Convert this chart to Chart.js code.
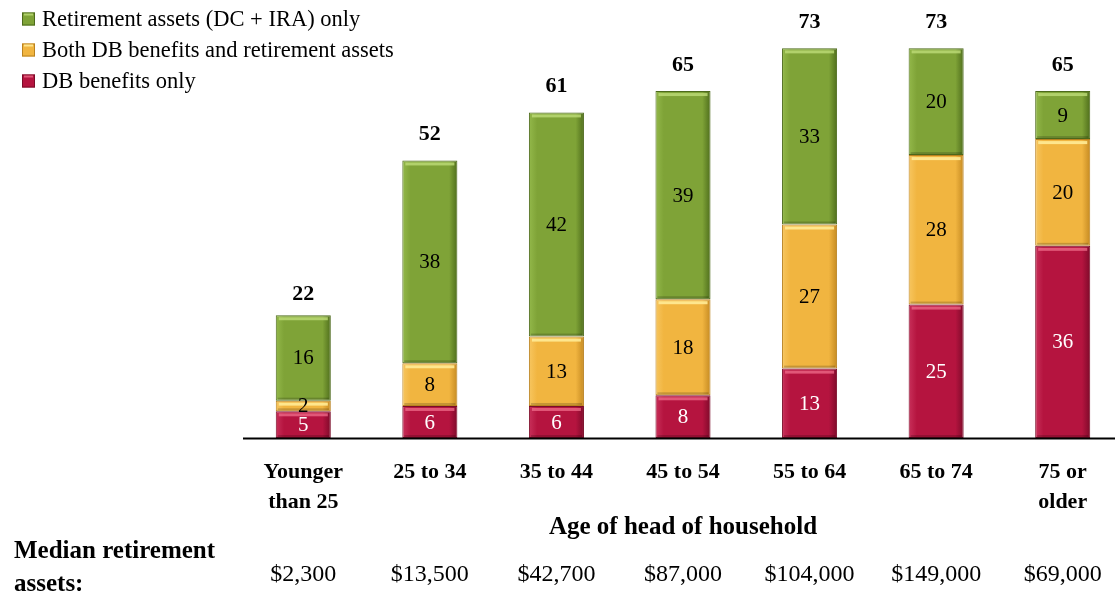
<!DOCTYPE html>
<html>
<head>
<meta charset="utf-8">
<script src="https://cdn.jsdelivr.net/npm/chart.js@4.4.0/dist/chart.umd.min.js"></script>
<style>
  html, body { margin: 0; padding: 0; background: #fff; overflow: hidden; }
  #wrap { position: relative; width: 1126px; height: 593px; }
</style>
</head>
<body>
<div id="wrap"><canvas id="c"></canvas></div>
<script>
const categories = [["Younger", "than 25"], "25 to 34", "35 to 44", "45 to 54", "55 to 64", "65 to 74", ["75 or", "older"]];
const dbOnly = [5, 6, 6, 8, 13, 25, 36];
const bothDbAndAssets = [2, 8, 13, 18, 27, 28, 20];
const assetsOnly = [16, 38, 42, 39, 33, 20, 9];
const totals = [22, 52, 61, 65, 73, 73, 65];
const medianAssets = ["$2,300", "$13,500", "$42,700", "$87,000", "$104,000", "$149,000", "$69,000"];
const seriesLabels = ["DB benefits only", "Both DB benefits and retirement assets", "Retirement assets (DC + IRA) only"];

const SERIF = "'Liberation Serif', 'DejaVu Serif', serif";

function grad(light, mid, dark) {
  return function(c) {
    const chart = c.chart;
    const xs = chart.scales && chart.scales.x;
    if (!chart.chartArea || !xs || c.dataIndex === undefined) return mid;
    const cx = xs.getPixelForValue(c.dataIndex);
    if (!isFinite(cx)) return mid;
    const w = 55;
    const g = chart.ctx.createLinearGradient(cx - w / 2, 0, cx + w / 2, 0);
    g.addColorStop(0, light);
    g.addColorStop(0.15, mid);
    g.addColorStop(0.85, mid);
    g.addColorStop(1, dark);
    return g;
  };
}

const barLabelPlugin = {
  id: 'barLabels',
  afterDatasetsDraw(chart) {
    const ctx = chart.ctx;
    ctx.save();
    chart.data.datasets.forEach((ds, di) => {
      const meta = chart.getDatasetMeta(di);
      meta.data.forEach((el) => {
        const top = Math.min(el.y, el.base), bot = Math.max(el.y, el.base);
        const w = el.width;
        ctx.fillStyle = ds.hiColor;
        ctx.fillRect(el.x - w / 2 + 3, top + 2, w - 6, 3);
        ctx.fillStyle = 'rgba(0,0,0,0.18)';
        ctx.fillRect(el.x - w / 2 + 2, bot - 3, w - 4, 2);
      });
    });
    ctx.textAlign = 'center';
    ctx.textBaseline = 'middle';
    ctx.font = "21px " + SERIF;
    chart.data.datasets.forEach((ds, di) => {
      const meta = chart.getDatasetMeta(di);
      meta.data.forEach((el, i) => {
        const v = ds.data[i];
        const cy = (el.y + el.base) / 2;
        ctx.fillStyle = ds.textColor;
        ctx.fillText(String(v), el.x, cy + 1);
      });
    });
    ctx.font = "bold 22px " + SERIF;
    ctx.fillStyle = '#000';
    const xs = chart.scales.x, ys = chart.scales.y;
    totals.forEach((t, i) => {
      ctx.fillText(String(t), xs.getPixelForValue(i), ys.getPixelForValue(t) - 26);
    });
    ctx.font = "24px " + SERIF;
    medianAssets.forEach((m, i) => {
      ctx.fillText(m, xs.getPixelForValue(i), 575);
    });
    ctx.textAlign = 'left';
    ctx.font = "bold 25px " + SERIF;
    ctx.fillText("Median retirement", 14, 552);
    ctx.fillText("assets:", 14, 585);
    const order = [2, 1, 0];
    ctx.font = "22.5px " + SERIF;
    order.forEach((di, r) => {
      const ds = chart.data.datasets[di];
      const y = 19 + r * 31;
      const sx = 22, sz = 13;
      ctx.fillStyle = ds.midColor;
      ctx.fillRect(sx, y - sz / 2, sz, sz);
      ctx.strokeStyle = ds.borderColor;
      ctx.lineWidth = 1;
      ctx.strokeRect(sx + 0.5, y - sz / 2 + 0.5, sz - 1, sz - 1);
      ctx.fillStyle = ds.hiColor;
      ctx.fillRect(sx + 2, y - sz / 2 + 1, sz - 4, 2);
      ctx.fillStyle = '#000';
      ctx.textBaseline = 'middle';
      ctx.fillText(ds.label, 42, y + 1);
    });
    ctx.restore();
  }
};

const axisLinePlugin = {
  id: 'axisLine',
  afterDatasetsDraw(chart) {
    const ctx = chart.ctx;
    const ys = chart.scales.y;
    const y0 = ys.getPixelForValue(0);
    ctx.save();
    ctx.strokeStyle = '#000';
    ctx.lineWidth = 2;
    ctx.beginPath();
    ctx.moveTo(243, y0 + 0.5);
    ctx.lineTo(1126, y0 + 0.5);
    ctx.stroke();
    ctx.restore();
  }
};

const mk = (label, data, light, mid, dark, border, hi, textColor) => ({
  label, data,
  backgroundColor: grad(light, mid, dark),
  borderColor: border,
  borderWidth: 1,
  borderSkipped: false,
  midColor: mid,
  hiColor: hi,
  textColor,
  barPercentage: 0.87,
  categoryPercentage: 0.5
});

new Chart(document.getElementById('c'), {
  type: 'bar',
  data: {
    labels: categories,
    datasets: [
      mk(seriesLabels[0], dbOnly, '#c8305a', '#b5143f', '#7e0a2a', '#7a0c28', 'rgba(240,110,140,0.75)', '#fff'),
      mk(seriesLabels[1], bothDbAndAssets, '#f7c660', '#f1b540', '#c58a22', '#b98220', 'rgba(255,235,150,0.9)', '#000'),
      mk(seriesLabels[2], assetsOnly, '#93b84a', '#7fa337', '#4f6e1c', '#4d6a1c', 'rgba(190,220,120,0.8)', '#000')
    ]
  },
  options: {
    responsive: true,
    maintainAspectRatio: false,
    animation: false,
    events: [],
    layout: { padding: { top: 11, left: 240, right: 0, bottom: 52.5 } },
    plugins: { legend: { display: false }, tooltip: { enabled: false } },
    scales: {
      x: {
        stacked: true,
        grid: { display: false, drawTicks: false },
        border: { display: false },
        ticks: {
          padding: 19,
          color: '#000',
          font: { family: SERIF, size: 22, weight: 'bold', lineHeight: 30 / 22 },
          maxRotation: 0, autoSkip: false
        },
        title: {
          display: true,
          text: 'Age of head of household',
          color: '#000',
          font: { family: SERIF, size: 25, weight: 'bold', lineHeight: 1.0 },
          padding: { top: -20.5, bottom: 0 }
        }
      },
      y: {
        stacked: true,
        display: false,
        min: 0, max: 80
      }
    }
  },
  plugins: [axisLinePlugin, barLabelPlugin]
});
</script>
</body>
</html>
